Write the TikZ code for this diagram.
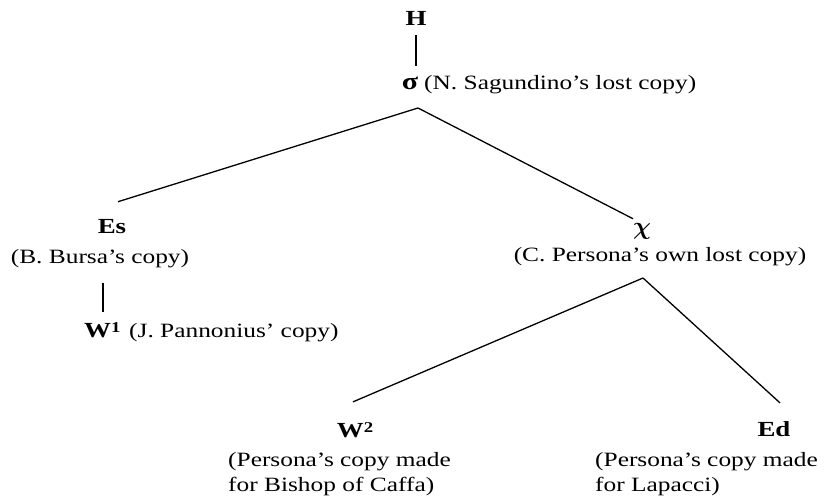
\documentclass[tikz,border=0pt]{standalone}
\usepackage{amsmath}
\usepackage{fontspec}
\setmainfont{Liberation Serif}[FakeStretch=1.25]
\usetikzlibrary{positioning}

\begin{document}
\begin{tikzpicture}[x=1pt,y=-1pt,
  siglum/.style={font=\fontsize{21.5}{24}\selectfont\bfseries, inner sep=0pt},
  greek/.style={font=\fontsize{24}{24}\selectfont\bfseries, inner sep=0pt},
  note/.style={font=\fontsize{20.3}{25}\selectfont, inner sep=0pt, align=left},
  stem/.style={line width=1.3pt}]

\useasboundingbox (0,0) rectangle (828,503);

% ============================
% ARCHETYPE AND FIRST COPY
% ============================

\node[siglum, anchor=base] (H) at (416,26) {H};
\node[greek, anchor=base] (sigma) at (410,90) {σ};
\node[note, anchor=base west] (sigma-note) at (424,90) {(N. Sagundino’s lost copy)};

\draw[stem, shorten <=9pt, shorten >=11pt] (H.south) -- (H.south |- sigma.north);

% Fork below sigma
\coordinate (sigma-fork) at (418,108);

% ============================
% LEFT BRANCH
% ============================

\node[siglum, anchor=base] (Es) at (112,233) {Es};
\node[note, anchor=base] (Es-note) at (100,263) {(B. Bursa’s copy)};

\node[siglum, anchor=base west] (W1) at (84,337)
  {W{\fontsize{15}{15}\selectfont\raisebox{5pt}{1}}};
\node[note, anchor=base west] (W1-note) at (129,337) {(J. Pannonius’ copy)};

\draw[stem] (sigma-fork) -- ([xshift=6pt,yshift=17pt]Es.north);
\draw[stem, shorten <=15pt, shorten >=10pt]
  ([xshift=3pt]Es-note.south) -- ([xshift=3pt]Es-note.south |- W1.north);

% ============================
% RIGHT BRANCH
% ============================

\node[greek, font=\fontsize{26}{26}\selectfont\boldmath, anchor=base] (chi) at (642,234) {$\chi$};
\node[note, anchor=base] (chi-note) at (660,261) {(C. Persona’s own lost copy)};

\draw[stem] (sigma-fork) -- ([xshift=-9pt,yshift=4pt]chi.north);

% Fork below chi
\coordinate (chi-fork) at (643,278);

\node[siglum, anchor=base] (W2) at (355,437)
  {W{\fontsize{15}{15}\selectfont\raisebox{5pt}{2}}};
\node[note, anchor=base west] (W2-note) at (228,491)
  {(Persona’s copy made\\for Bishop of Caffa)};

\node[siglum, anchor=base] (Ed) at (774,436) {Ed};
\node[note, anchor=base west] (Ed-note) at (595,491)
  {(Persona’s copy made\\for Lapacci)};

\draw[stem] (chi-fork) -- ([xshift=-2pt,yshift=20pt]W2.north);
\draw[stem] (chi-fork) -- ([xshift=6pt,yshift=18pt]Ed.north);

\end{tikzpicture}
\end{document}
